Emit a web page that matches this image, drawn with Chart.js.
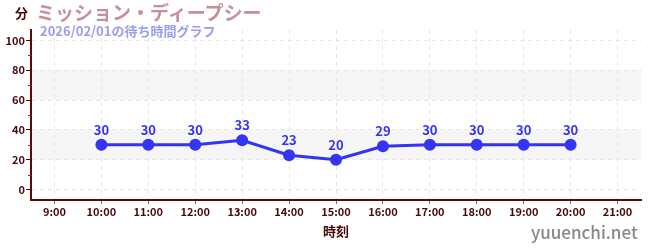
<!DOCTYPE html>
<html>
<head>
<meta charset="utf-8">
<script src="https://cdn.jsdelivr.net/npm/chart.js@4/dist/chart.umd.min.js"></script>
<style>
  body { margin: 0; background: #fff; }
  #wrap { position: relative; width: 650px; height: 250px; font-family: "Noto Sans CJK JP", "Noto Sans", sans-serif; }
  #c { position: absolute; left: 0; top: 0; }
  .txt { position: absolute; white-space: nowrap; font-weight: bold; line-height: 1; }
  #unit { left: 15px; top: 6px; font-size: 13px; color: #4a0808; }
  #title { left: 36px; top: 2px; font-size: 19px; color: #c4919a; }
  #sub { left: 40px; top: 24px; font-size: 13px; color: #9c9cf0; }
  #site { left: 531px; top: 223px; font-size: 17px; color: #888; font-weight: 500; }
</style>
</head>
<body>
<div id="wrap">
  <canvas id="c" width="650" height="250"></canvas>
  <div class="txt" id="unit">分</div>
  <div class="txt" id="title">ミッション・ディープシー</div>
  <div class="txt" id="sub">2026/02/01の待ち時間グラフ</div>
  <div class="txt" id="site">yuuenchi.net</div>
</div>
<script>
// 時刻 (hour) and 待ち時間 (minutes)
var horas = [10, 11, 12, 13, 14, 15, 16, 17, 18, 19, 20];
var esperas = [30, 30, 30, 33, 23, 20, 29, 30, 30, 30, 30];
var bandas = [[20, 40], [60, 80]];
var ticksY = [0, 20, 40, 60, 80, 100];
var minorY = [10, 30, 50, 70, 90];

var puntos = [];
for (var i = 0; i < horas.length; i++) {
	puntos.push({x: horas[i], y: esperas[i]});
}

var fuente = '"Noto Sans CJK JP", "Noto Sans", sans-serif';
var azul = '#3434f4';
var granate = '#4a0808';

// franjas grises de fondo
var pluginBandas = {
	id: 'bandas',
	beforeDraw: function(chart){
		var ctx = chart.ctx, a = chart.chartArea, y = chart.scales.y;
		ctx.save();
		ctx.fillStyle = '#f6f6f6';
		bandas.forEach(function(b){
			var t = y.getPixelForValue(b[1]), bo = y.getPixelForValue(b[0]);
			ctx.fillRect(a.left, t, a.right - a.left, bo - t);
		});
		ctx.restore();
	}
};

// marcas menores rojas del eje y + etiquetas de valores
var pluginExtra = {
	id: 'extra',
	afterDatasetsDraw: function(chart){
		var ctx = chart.ctx, a = chart.chartArea, y = chart.scales.y;
		ctx.save();
		ctx.strokeStyle = '#d01010';
		ctx.lineWidth = 1;
		minorY.forEach(function(v){
			var py = Math.round(y.getPixelForValue(v)) + 0.5;
			ctx.beginPath();
			ctx.moveTo(a.left - 3, py);
			ctx.lineTo(a.left, py);
			ctx.stroke();
		});
		var meta = chart.getDatasetMeta(0);
		ctx.fillStyle = azul;
		ctx.font = 'bold 13px ' + fuente;
		ctx.textAlign = 'center';
		ctx.textBaseline = 'middle';
		meta.data.forEach(function(p, i){
			ctx.fillText(String(esperas[i]), p.x, p.y - 15);
		});
		ctx.restore();
	}
};

var grafica = new Chart(document.getElementById('c').getContext('2d'), {
	type: 'line',
	data: {
		datasets: [{
			data: puntos,
			borderColor: azul,
			backgroundColor: azul,
			borderWidth: 3,
			pointRadius: 6,
			pointHoverRadius: 6,
			pointBackgroundColor: azul,
			pointBorderWidth: 0,
			tension: 0
		}]
	},
	options: {
		responsive: false,
		animation: false,
		events: [],
		layout: { padding: { top: 30, right: 9, left: 0, bottom: 0 } },
		plugins: { legend: { display: false }, tooltip: { enabled: false } },
		scales: {
			x: {
				type: 'linear',
				min: 8.5,
				max: 21.5,
				afterBuildTicks: function(s){
					var t = [];
					for (var h = 9; h <= 21; h++) t.push({value: h});
					s.ticks = t;
				},
				afterFit: function(s){ s.height = 50; },
				ticks: {
					color: granate,
					font: { family: fuente, size: 11, weight: 'bold' },
					padding: 1,
					maxRotation: 0,
					callback: function(v){ return v + ':00'; }
				},
				grid: {
					color: '#e6e6e6',
					tickColor: '#777',
					tickLength: 4,
					lineWidth: 1
				},
				border: { color: '#5a0a0a', width: 2, dash: [4, 4] },
				title: {
					display: true,
					text: '時刻',
					color: granate,
					font: { family: fuente, size: 13, weight: 'bold' },
					padding: { top: 0, bottom: 11 }
				}
			},
			y: {
				min: -7,
				max: 107,
				afterBuildTicks: function(s){
					s.ticks = ticksY.map(function(v){ return {value: v}; });
				},
				afterFit: function(s){ s.width = 31; },
				ticks: {
					color: granate,
					font: { family: fuente, size: 11, weight: 'bold' },
					padding: 1
				},
				grid: {
					color: '#e6e6e6',
					tickColor: granate,
					tickLength: 5,
					lineWidth: 1
				},
				border: { color: '#5a0a0a', width: 2, dash: [4, 4] }
			}
		}
	},
	plugins: [pluginBandas, pluginExtra]
});
</script>
</body>
</html>
